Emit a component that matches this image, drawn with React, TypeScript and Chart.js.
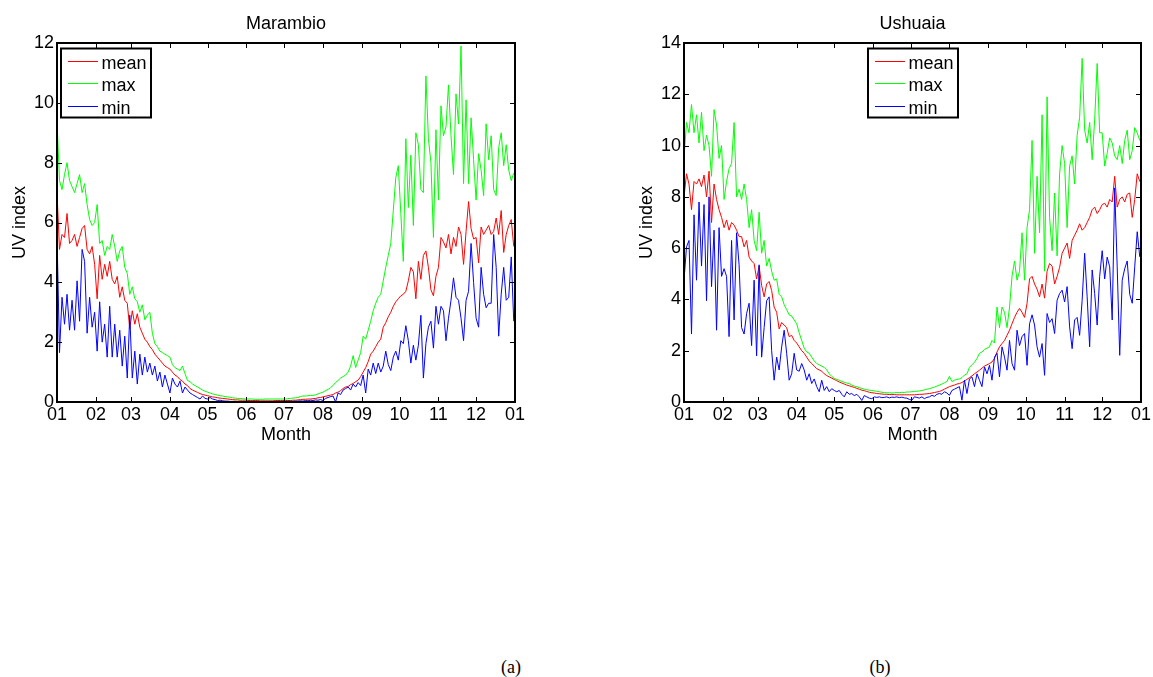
import React, { useEffect, useRef } from "react";
import { Chart, registerables } from "chart.js";

Chart.register(...registerables);

// Sampling days (day of year) shared by every series
const SAMPLE_DAYS = [
  0, 2, 4, 6, 8, 10, 12, 14, 16, 18, 20, 22, 24, 26, 28, 30, 32, 34, 36, 38,
  40, 42, 44, 46, 48, 50, 52, 54, 56, 58, 60, 62, 64, 66, 68, 70, 72, 74, 76, 78,
  80, 82, 84, 86, 88, 90, 92, 94, 96, 98, 100, 102, 104, 106, 108, 110, 112, 114, 116, 118,
  120, 122, 124, 126, 128, 130, 132, 134, 136, 138, 140, 142, 144, 146, 148, 150, 152, 154, 156, 158,
  160, 162, 164, 166, 168, 170, 172, 174, 176, 178, 180, 182, 184, 186, 188, 190, 192, 194, 196, 198,
  200, 202, 204, 206, 208, 210, 212, 214, 216, 218, 220, 222, 224, 226, 228, 230, 232, 234, 236, 238,
  240, 242, 244, 246, 248, 250, 252, 254, 256, 258, 260, 262, 264, 266, 268, 270, 272, 274, 276, 278,
  280, 282, 284, 286, 288, 290, 292, 294, 296, 298, 300, 302, 304, 306, 308, 310, 312, 314, 316, 318,
  320, 322, 324, 326, 328, 330, 332, 334, 336, 338, 340, 342, 344, 346, 348, 350, 352, 354, 356, 358,
  360, 362, 364,
];

const MONTH_TICK_DAYS = [0, 31, 59, 90, 120, 151, 181, 212, 243, 273, 304, 334, 365];
const MONTH_LABELS = ["01", "02", "03", "04", "05", "06", "07", "08", "09", "10", "11", "12", "01"];

const MARAMBIO_Y_TICKS = [0, 2, 4, 6, 8, 10, 12];
const USHUAIA_Y_TICKS = [0, 2, 4, 6, 8, 10, 12, 14];

const SERIES_LABELS = ["mean", "max", "min"];

// ---- Marambio ----
const MARAMBIO_MEAN = [
  7.0, 5.1, 5.6, 5.5, 6.3, 5.3, 5.4, 5.6, 5.2, 5.5,
  5.8, 5.9, 5.1, 4.95, 5.2, 4.6, 3.45, 4.9, 4.1, 4.6,
  4.2, 4.7, 4.1, 3.95, 4.2, 3.5, 3.85, 3.4, 3.3, 2.45,
  3.05, 2.6, 2.95, 2.5, 2.3, 2.1, 2.0, 1.85, 1.75, 1.6,
  1.5, 1.4, 1.3, 1.2, 1.15, 1.1, 1.0, 0.9, 0.85, 0.75,
  0.7, 0.6, 0.55, 0.45, 0.4, 0.36, 0.32, 0.28, 0.25, 0.23,
  0.21, 0.19, 0.17, 0.16, 0.14, 0.13, 0.12, 0.11, 0.1, 0.09,
  0.08, 0.07, 0.07, 0.06, 0.06, 0.06, 0.05, 0.05, 0.05, 0.05,
  0.05, 0.04, 0.04, 0.04, 0.04, 0.04, 0.04, 0.05, 0.05, 0.05,
  0.05, 0.05, 0.05, 0.05, 0.06, 0.06, 0.07, 0.08, 0.09, 0.09,
  0.1, 0.1, 0.11, 0.12, 0.14, 0.15, 0.17, 0.19, 0.21, 0.23,
  0.25, 0.3, 0.33, 0.38, 0.45, 0.5, 0.52, 0.58, 0.62, 0.68,
  0.73, 0.85, 1.0, 1.15, 1.35, 1.6, 1.7, 1.85, 2.0, 2.1,
  2.5, 2.65, 2.85, 3.0, 3.2, 3.35, 3.45, 3.55, 3.6, 3.7,
  4.05, 4.5, 4.35, 3.45, 4.7, 4.1, 4.9, 5.05, 4.5, 3.75,
  3.55, 4.2, 4.5, 5.5, 5.35, 5.15, 5.6, 4.95, 5.5, 5.2,
  5.85, 5.6, 4.6, 5.7, 6.7, 5.8, 5.45, 5.5, 4.65, 5.85,
  5.6, 5.75, 5.9, 5.6, 5.7, 6.15, 5.6, 6.4, 5.0, 5.6,
  5.9, 6.1, 5.2,
];

const MARAMBIO_MAX = [
  9.4, 7.4, 7.1, 7.6, 8.0, 7.4, 7.2, 7.0, 7.3, 7.6,
  7.0, 7.3, 6.6, 6.1, 5.9, 6.0, 6.6, 5.3, 5.4, 4.9,
  5.2, 5.1, 5.6, 5.2, 4.7, 5.05, 5.2, 4.5, 4.3, 3.6,
  3.85, 3.45, 3.35, 3.0, 3.25, 2.75, 2.9, 3.0, 2.3, 1.95,
  1.85, 1.7, 1.65, 1.6, 1.55, 1.5, 1.25, 1.15, 1.1, 1.05,
  1.2, 0.95, 0.72, 0.68, 0.6, 0.55, 0.5, 0.45, 0.4, 0.36,
  0.33, 0.3, 0.27, 0.25, 0.23, 0.21, 0.2, 0.18, 0.17, 0.16,
  0.14, 0.13, 0.12, 0.12, 0.11, 0.1, 0.1, 0.1, 0.1, 0.09,
  0.09, 0.09, 0.09, 0.1, 0.1, 0.1, 0.1, 0.1, 0.1, 0.1,
  0.1, 0.1, 0.11, 0.12, 0.13, 0.14, 0.15, 0.18, 0.2, 0.2,
  0.21, 0.22, 0.22, 0.24, 0.27, 0.3, 0.33, 0.38, 0.42, 0.48,
  0.55, 0.65, 0.72, 0.8, 0.85, 0.9, 1.0, 1.2, 1.55, 1.15,
  1.4, 1.65, 2.2, 2.1, 2.4, 2.7, 3.05, 3.3, 3.5, 3.6,
  4.05, 4.5, 4.9, 5.3, 6.4, 7.5, 7.9, 6.3, 4.7, 8.8,
  6.5, 8.25, 5.9, 9.0, 8.6, 7.1, 7.0, 10.9, 8.8, 8.0,
  5.5, 9.1, 6.75, 9.9, 8.9, 9.2, 10.6, 8.9, 7.6, 10.3,
  9.3, 11.9, 7.3, 10.1, 7.3, 9.5, 8.1, 6.75, 8.3, 7.75,
  6.9, 9.3, 8.1, 8.9, 7.1, 6.9, 8.5, 9.0, 7.9, 8.6,
  7.75, 7.4, 7.65,
];

const MARAMBIO_MIN = [
  5.6, 1.65, 3.5, 2.6, 3.6, 2.4, 3.4, 2.4, 4.05, 2.7,
  5.1, 4.7, 2.3, 3.5, 2.5, 3.0, 1.7, 3.35, 2.0, 2.6,
  1.5, 3.2, 1.5, 2.6, 1.5, 2.4, 1.2, 2.2, 0.8, 2.9,
  0.8, 1.7, 0.6, 1.6, 0.9, 1.5, 1.0, 1.3, 0.9, 1.2,
  0.7, 1.0, 0.5, 0.9, 0.6, 0.3, 0.8, 0.6, 0.5, 0.7,
  0.3, 0.5, 0.4, 0.3, 0.25, 0.2, 0.15, 0.1, 0.2, 0.12,
  0.1, 0.15, 0.1, 0.08, 0.05, 0.06, 0.04, 0.03, 0.03, 0.02,
  0.02, 0.02, 0.01, 0.02, 0.01, 0.01, 0.02, 0.01, 0.01, 0.01,
  0.01, 0.01, 0.02, 0.01, 0.01, 0.02, 0.01, 0.02, 0.02, 0.02,
  0.02, 0.02, 0.02, 0.03, 0.02, 0.03, 0.03, 0.04, 0.03, 0.05,
  0.04, 0.06, 0.05, 0.07, 0.06, 0.08, 0.05, 0.12, 0.15, 0.18,
  0.2, 0.0, 0.3, 0.25, 0.4, 0.45, 0.5, 0.4, 0.6, 0.5,
  0.65, 0.55, 0.9, 0.3, 1.1, 0.9, 1.3, 0.95, 1.3, 1.0,
  1.2, 1.7, 1.25, 1.05, 1.5, 1.7, 1.4, 2.05, 1.95, 2.55,
  2.05, 1.3, 1.9, 1.4, 1.9, 2.9, 0.8, 1.95, 2.5, 2.7,
  1.8, 3.2, 2.6, 3.2, 3.05, 2.05, 2.8, 3.4, 4.15, 3.5,
  3.4, 2.8, 2.05, 3.4, 3.7, 5.3, 4.0, 2.8, 2.5, 4.5,
  3.6, 3.15, 3.3, 3.3, 5.6, 4.5, 2.2, 3.6, 4.5, 3.4,
  3.5, 4.85, 2.7,
];

// ---- Ushuaia ----
const USHUAIA_MEAN = [
  8.0, 8.9, 8.5, 7.5, 8.6, 8.5, 8.7, 8.4, 8.85, 8.0,
  9.0, 7.0, 8.5, 7.9, 7.5, 7.2, 6.8, 7.1, 6.7, 7.0,
  6.9, 6.7, 6.45, 6.45, 6.05, 6.3, 5.65, 5.5, 5.4, 4.8,
  5.3, 4.55, 4.1, 4.6, 4.7, 4.35, 3.7, 3.5, 2.85, 3.1,
  3.0, 2.9, 2.55, 2.6, 2.4, 2.3, 2.15, 2.0, 1.9, 1.75,
  1.6, 1.5, 1.4, 1.3, 1.25, 1.2, 1.1, 1.03, 0.98, 0.93,
  0.88, 0.83, 0.78, 0.74, 0.7, 0.66, 0.63, 0.6, 0.57, 0.53,
  0.5, 0.46, 0.44, 0.41, 0.38, 0.36, 0.35, 0.33, 0.32, 0.31,
  0.3, 0.3, 0.29, 0.29, 0.29, 0.28, 0.28, 0.28, 0.28, 0.28,
  0.28, 0.28, 0.28, 0.29, 0.3, 0.3, 0.31, 0.32, 0.33, 0.35,
  0.37, 0.39, 0.41, 0.45, 0.5, 0.55, 0.6, 0.63, 0.66, 0.7,
  0.72, 0.76, 0.82, 0.88, 0.95, 1.02, 1.1, 1.17, 1.24, 1.32,
  1.4, 1.45, 1.5, 1.56, 1.7, 1.95, 2.15, 2.28, 2.4, 2.6,
  2.8, 3.05, 3.3, 3.5, 3.65, 3.5, 3.3, 3.85, 4.8, 4.9,
  4.6, 4.4, 4.1, 4.6, 4.05, 5.1, 5.4, 5.3, 4.6, 4.9,
  5.25, 5.8, 6.0, 6.2, 5.6, 6.3, 6.5, 6.7, 6.95, 6.7,
  6.8, 7.0, 7.2, 7.5, 7.6, 7.35, 7.5, 7.7, 7.75, 7.6,
  7.9, 7.8, 8.8, 7.6, 7.9, 8.0, 7.8, 8.1, 8.15, 7.2,
  7.9, 8.9, 8.6,
];

const USHUAIA_MAX = [
  9.5, 10.9, 10.5, 11.6, 10.5, 11.2, 10.1, 11.3, 9.8, 10.4,
  10.0, 8.8, 11.4, 10.8, 9.5, 10.0, 7.9, 8.6, 9.1, 9.3,
  10.9, 8.0, 8.3, 7.9, 8.5, 7.9, 6.8, 7.5, 6.3, 5.9,
  7.4, 5.8, 6.3, 5.3, 5.6, 5.1, 4.75, 4.8, 4.2, 4.1,
  3.8, 3.6, 3.4, 3.35, 3.2, 3.05, 2.7, 2.4, 2.1, 1.95,
  1.9, 1.75, 1.6, 1.5, 1.45, 1.4, 1.35, 1.25, 1.1, 1.0,
  0.92, 0.88, 0.85, 0.8, 0.77, 0.74, 0.72, 0.66, 0.62, 0.6,
  0.56, 0.53, 0.5, 0.48, 0.46, 0.45, 0.43, 0.42, 0.4, 0.38,
  0.37, 0.36, 0.36, 0.35, 0.36, 0.37, 0.36, 0.38, 0.37, 0.39,
  0.39, 0.4, 0.41, 0.42, 0.43, 0.45, 0.47, 0.5, 0.52, 0.55,
  0.58, 0.62, 0.66, 0.7, 0.75, 0.8, 1.0, 0.8, 0.85, 0.88,
  0.9, 0.95, 1.05, 1.1, 1.35, 1.45, 1.55, 1.7, 1.9, 1.95,
  2.05, 2.1, 2.15, 2.4, 2.3, 3.7, 2.9, 3.7, 3.5, 2.9,
  3.7, 4.9, 5.5, 4.75, 5.1, 6.6, 4.75, 6.8, 7.5, 10.2,
  5.8, 8.8, 6.6, 11.2, 5.1, 11.9, 7.2, 5.9, 8.15, 5.7,
  8.9, 10.0, 9.3, 6.8, 9.2, 9.6, 8.5, 10.4, 11.1, 13.4,
  10.6, 10.1, 10.9, 9.45, 11.0, 13.2, 10.5, 10.5, 9.2, 9.7,
  10.3, 10.1, 9.6, 9.45, 10.0, 9.3, 10.2, 10.6, 9.45, 9.8,
  10.7, 10.5, 10.2,
];

const USHUAIA_MIN = [
  4.75, 6.05, 6.3, 2.65, 7.3, 4.75, 7.8, 5.3, 7.7, 3.95,
  8.0, 4.5, 6.7, 2.8, 6.8, 4.9, 5.2, 4.9, 2.55, 6.3,
  3.2, 6.6, 5.35, 2.9, 2.65, 3.45, 3.85, 2.2, 4.75, 1.8,
  5.35, 1.75, 2.9, 3.95, 4.1, 2.0, 0.85, 1.75, 1.25, 2.15,
  2.8, 1.9, 0.85, 1.1, 1.9, 1.25, 1.2, 1.5, 1.25, 0.85,
  1.1, 0.72, 0.9, 0.6, 0.4, 0.85, 0.45, 0.6, 0.4, 0.52,
  0.45, 0.4, 0.45, 0.3, 0.2, 0.4, 0.3, 0.33, 0.25, 0.3,
  0.2, 0.06, 0.25, 0.2, 0.15, 0.13, 0.2, 0.18, 0.2, 0.17,
  0.18, 0.2, 0.16, 0.19, 0.18, 0.2, 0.17, 0.19, 0.16, 0.15,
  0.1, 0.07, 0.2, 0.18, 0.15, 0.2, 0.13, 0.18, 0.2, 0.26,
  0.22, 0.3, 0.33, 0.3, 0.4, 0.35, 0.26, 0.45, 0.5, 0.55,
  0.6, 0.07, 0.85, 0.33, 0.9, 0.98, 0.6, 1.1, 0.85, 0.6,
  1.37, 1.1, 1.43, 0.85, 1.75, 1.9, 0.98, 2.15, 1.75, 1.24,
  2.4, 1.5, 1.24, 2.8, 2.2, 2.55, 2.67, 1.43, 3.05, 3.4,
  3.0, 2.15, 1.75, 2.28, 1.04, 3.45, 3.1, 3.25, 2.67, 3.97,
  4.23, 4.36, 3.9, 4.5, 2.93, 2.08, 3.2, 3.3, 2.6, 3.97,
  5.8, 4.1, 2.15, 5.15, 4.23, 3.0, 4.9, 5.9, 4.8, 5.65,
  5.27, 3.2, 8.35, 5.27, 1.82, 4.75, 5.2, 5.5, 4.2, 3.85,
  5.27, 6.64, 5.66,
];

const COLORS = ["#ff0000", "#00ff00", "#0000ff"];
const FONT = '"Liberation Sans", Arial, Helvetica, sans-serif';
const FONT_SIZE = 18;

type PanelProps = {
  title: string;
  mean: number[];
  max: number[];
  min: number[];
  yTicks: number[];
  canvasLeft: number;
  canvasWidth: number;
  padRight: number;
  legendX: number;
};

const CANVAS_H = 460;

function Panel(props: PanelProps) {
  const ref = useRef<HTMLCanvasElement | null>(null);

  useEffect(() => {
    const canvas = ref.current;
    if (!canvas) return;
    const { title, yTicks, legendX } = props;
    const yMax = yTicks[yTicks.length - 1];
    const seriesValues = [props.mean, props.max, props.min];

    const decor = {
      id: "matlabDecor",
      afterDatasetsDraw(chart: any) {
        const { ctx, chartArea: a, scales } = chart;
        const xs = scales.x;
        const ys = scales.y;
        ctx.save();
        ctx.strokeStyle = "#000";
        ctx.lineWidth = 1;
        ctx.beginPath();
        for (const d of MONTH_TICK_DAYS) {
          const px = Math.round(xs.getPixelForValue(d)) + 0.5;
          ctx.moveTo(px, a.bottom);
          ctx.lineTo(px, a.bottom - 5);
          ctx.moveTo(px, a.top);
          ctx.lineTo(px, a.top + 5);
        }
        for (const v of yTicks) {
          const py = Math.round(ys.getPixelForValue(v)) + 0.5;
          ctx.moveTo(a.left, py);
          ctx.lineTo(a.left + 5, py);
          ctx.moveTo(a.right, py);
          ctx.lineTo(a.right - 5, py);
        }
        ctx.stroke();
        ctx.lineWidth = 2;
        ctx.strokeRect(a.left, a.top, a.right - a.left, a.bottom - a.top);

        // legend box
        const bx = legendX;
        const by = a.top + 5.5;
        const bw = 90;
        const bh = 69;
        ctx.fillStyle = "#fff";
        ctx.fillRect(bx, by, bw, bh);
        ctx.lineWidth = 2;
        ctx.strokeRect(bx, by, bw, bh);
        ctx.font = `${FONT_SIZE}px ${FONT}`;
        ctx.textAlign = "left";
        ctx.textBaseline = "alphabetic";
        SERIES_LABELS.forEach((lab, i) => {
          const ly = Math.round(by + 12.5 + i * 22.3) + 0.5;
          ctx.strokeStyle = COLORS[i];
          ctx.lineWidth = 1;
          ctx.beginPath();
          ctx.moveTo(bx + 7, ly);
          ctx.lineTo(bx + 37, ly);
          ctx.stroke();
          ctx.fillStyle = "#000";
          ctx.fillText(lab, bx + 40.5, ly + 7);
        });
        ctx.restore();
      },
      afterDraw(chart: any) {
        const { ctx, chartArea: a } = chart;
        ctx.save();
        ctx.fillStyle = "#000";
        ctx.font = `${FONT_SIZE}px ${FONT}`;
        ctx.textAlign = "center";
        ctx.textBaseline = "alphabetic";
        const cx = (a.left + a.right) / 2;
        ctx.fillText(title, cx, 29);
        ctx.fillText("Month", cx, 440);
        ctx.translate(a.left - 37, (a.top + a.bottom) / 2);
        ctx.rotate(-Math.PI / 2);
        ctx.textBaseline = "middle";
        ctx.fillText("UV index", 0, 0);
        ctx.restore();
      },
    };

    const chart = new Chart(canvas, {
      type: "line",
      data: {
        datasets: SERIES_LABELS.map((lab, i) => ({
          label: lab,
          data: SAMPLE_DAYS.map((d, k) => ({ x: d, y: seriesValues[i][k] })),
          borderColor: COLORS[i],
          backgroundColor: COLORS[i],
          borderWidth: 1,
          pointRadius: 0,
          tension: 0,
          fill: false,
          order: 3 - i,
        })),
      },
      options: {
        responsive: false,
        maintainAspectRatio: false,
        animation: false,
        events: [],
        layout: { padding: { left: 0, right: props.padRight, top: 43, bottom: 0 } },
        plugins: {
          legend: { display: false },
          tooltip: { enabled: false },
          title: { display: false },
        },
        scales: {
          x: {
            type: "linear",
            min: 0,
            max: 365,
            afterBuildTicks: (s: any) => {
              s.ticks = MONTH_TICK_DAYS.map((v) => ({ value: v }));
            },
            afterFit: (s: any) => {
              s.height = 58;
            },
            ticks: {
              autoSkip: false,
              maxRotation: 0,
              minRotation: 0,
              padding: 2,
              color: "#000",
              font: { family: FONT, size: FONT_SIZE },
              callback: (_v: any, idx: number) => MONTH_LABELS[idx],
            },
            grid: { display: false, drawTicks: false },
            border: { display: false },
          },
          y: {
            type: "linear",
            min: 0,
            max: yMax,
            afterBuildTicks: (s: any) => {
              s.ticks = yTicks.map((v) => ({ value: v }));
            },
            afterFit: (s: any) => {
              s.width = 57;
            },
            ticks: {
              padding: 3,
              color: "#000",
              font: { family: FONT, size: FONT_SIZE },
              callback: (v: any) => String(v),
            },
            grid: { display: false, drawTicks: false },
            border: { display: false },
          },
        },
      },
      plugins: [decor],
    } as any);

    return () => chart.destroy();
  }, []);

  return (
    <canvas
      ref={ref}
      width={props.canvasWidth}
      height={CANVAS_H}
      style={{
        position: "absolute",
        left: props.canvasLeft,
        top: 0,
        width: props.canvasWidth,
        height: CANVAS_H,
      }}
    />
  );
}

const captionStyle = (cx: number): React.CSSProperties => ({
  position: "absolute",
  left: cx - 50,
  top: 658,
  width: 100,
  textAlign: "center",
  fontFamily: '"Liberation Serif", "Times New Roman", serif',
  fontSize: 18,
  lineHeight: "18px",
  color: "#000",
});

export default function App() {
  return (
    <div
      style={{
        position: "absolute",
        left: 0,
        top: 0,
        width: 1153,
        height: 677,
        background: "#fff",
        overflow: "hidden",
      }}
    >
      <Panel
        title="Marambio"
        mean={MARAMBIO_MEAN}
        max={MARAMBIO_MAX}
        min={MARAMBIO_MIN}
        yTicks={MARAMBIO_Y_TICKS}
        canvasLeft={0}
        canvasWidth={576}
        padRight={61}
        legendX={61}
      />
      <Panel
        title="Ushuaia"
        mean={USHUAIA_MEAN}
        max={USHUAIA_MAX}
        min={USHUAIA_MIN}
        yTicks={USHUAIA_Y_TICKS}
        canvasLeft={627}
        canvasWidth={526}
        padRight={11}
        legendX={241}
      />
      <div style={captionStyle(511)}>(a)</div>
      <div style={captionStyle(880)}>(b)</div>
    </div>
  );
}
